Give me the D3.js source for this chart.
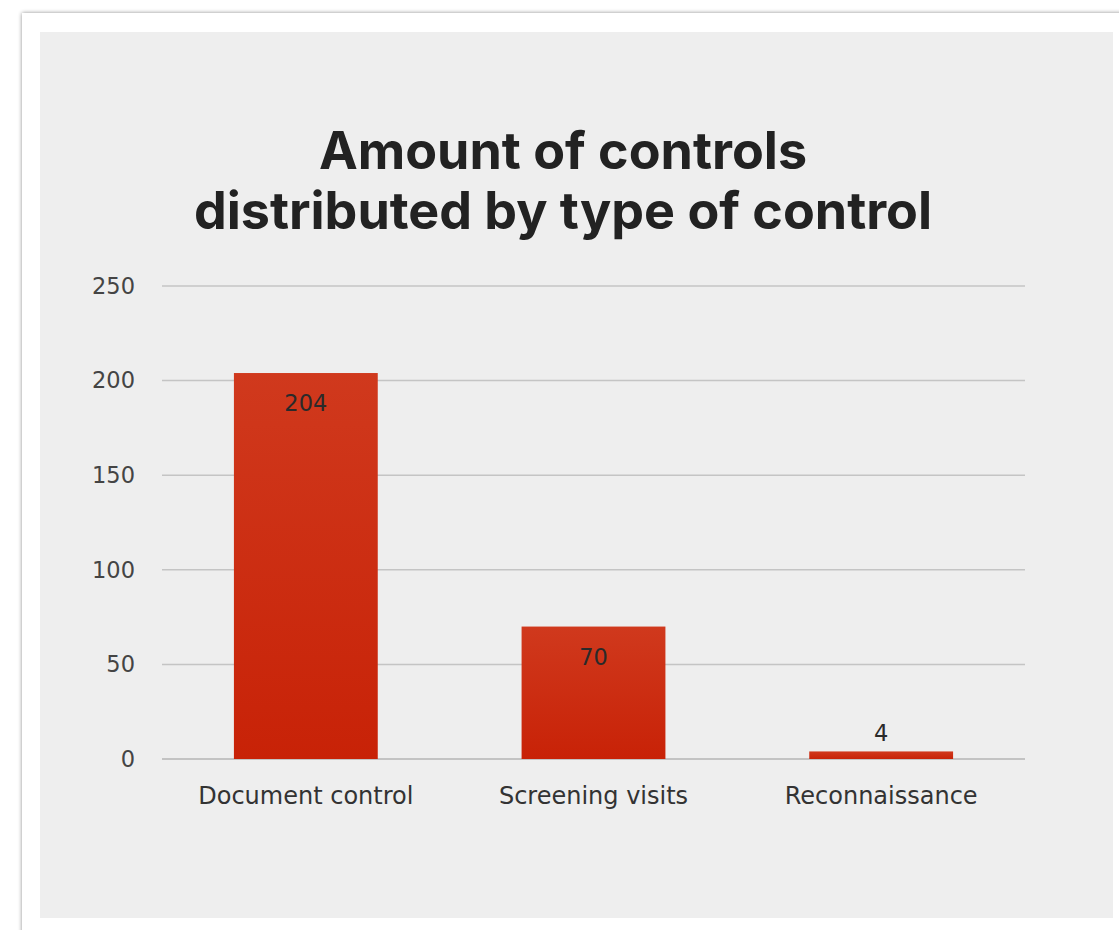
<!DOCTYPE html>
<html><head><meta charset="utf-8">
<script src="https://cdn.jsdelivr.net/npm/d3@7"></script>
<style>html,body{margin:0;padding:0;background:#fff;}svg{display:block;}</style>
</head><body>
<script>
const categories = ["Document control", "Screening visits", "Reconnaissance"];
const values = [204, 70, 4];
const yTicks = [0, 50, 100, 150, 200, 250];
const titleLines = ["Amount of controls", "distributed by type of control"];

const W = 1119, H = 930;
const svg = d3.select("body").append("svg").attr("width", W).attr("height", H);
const defs = svg.append("defs");
const f = defs.append("filter").attr("id","sh").attr("x","-5%").attr("y","-5%").attr("width","110%").attr("height","110%");
f.append("feGaussianBlur").attr("in","SourceAlpha").attr("stdDeviation",2);
f.append("feOffset").attr("dx",0).attr("dy",0).attr("result","b");
f.append("feComponentTransfer").append("feFuncA").attr("type","linear").attr("slope",0.45);
const m = f.append("feMerge"); m.append("feMergeNode"); m.append("feMergeNode").attr("in","SourceGraphic");

const g = defs.append("linearGradient").attr("id","bar").attr("x1",0).attr("y1",0).attr("x2",0).attr("y2",1);
g.append("stop").attr("offset","0%").attr("stop-color","#d0391d");
g.append("stop").attr("offset","100%").attr("stop-color","#c82207");

// outer card
svg.append("rect").attr("x",22).attr("y",13).attr("width",1140).attr("height",960).attr("fill","#fff").attr("filter","url(#sh)");
// inner panel
svg.append("rect").attr("x",40).attr("y",32).attr("width",1073).attr("height",886).attr("fill","#eeeeee");

const x = d3.scaleBand().domain(categories).range([162,1025]).paddingInner(0.5).paddingOuter(0.25);
const y = d3.scaleLinear().domain([0,250]).range([759,286]);
const FONT = "'DejaVu Sans', Verdana, sans-serif";

// gridlines
svg.append("g").selectAll("line").data(yTicks).join("line")
  .attr("x1",162).attr("x2",1025).attr("y1",d=>y(d)).attr("y2",d=>y(d))
  .attr("stroke",d=>d===0?"#b5b5b5":"#c4c4c4").attr("stroke-width",1.5);

// y axis labels
const yAxis = d3.axisLeft(y).tickValues(yTicks).tickSize(0).tickPadding(0);
const ya = svg.append("g").attr("transform","translate(135,0)").call(yAxis);
ya.select(".domain").remove();
ya.selectAll("text").attr("font-family",FONT).attr("font-size",22.5).attr("fill","#444");

// bars
svg.append("g").selectAll("rect").data(values).join("rect")
  .attr("x",(d,i)=>x(categories[i])).attr("width",x.bandwidth())
  .attr("y",d=>y(d)).attr("height",d=>y(0)-y(d)).attr("fill","url(#bar)");

// value labels
svg.append("g").selectAll("text").data(values).join("text")
  .attr("x",(d,i)=>x(categories[i])+x.bandwidth()/2)
  .attr("y",d=> (y(0)-y(d))>40 ? y(d)+38 : y(d)-10)
  .attr("text-anchor","middle").attr("font-family",FONT)
  .attr("font-size",22.5).attr("fill","#2a2a2a").text(d=>d);

// x axis labels
const xAxis = d3.axisBottom(x).tickSize(0).tickPadding(0);
const xa = svg.append("g").attr("transform","translate(0,804)").call(xAxis);
xa.select(".domain").remove();
xa.selectAll("text").attr("dy",0).attr("font-family",FONT).attr("font-size",24).attr("fill","#333");

// title
svg.append("g").selectAll("text").data(titleLines).join("text")
  .attr("x",563).attr("y",(d,i)=>169+i*60).attr("text-anchor","middle")
  .attr("font-family","Inter, Lato, sans-serif").attr("font-weight",700).attr("font-size",52)
  .attr("fill","#222").text(d=>d);
</script>
</body></html>
